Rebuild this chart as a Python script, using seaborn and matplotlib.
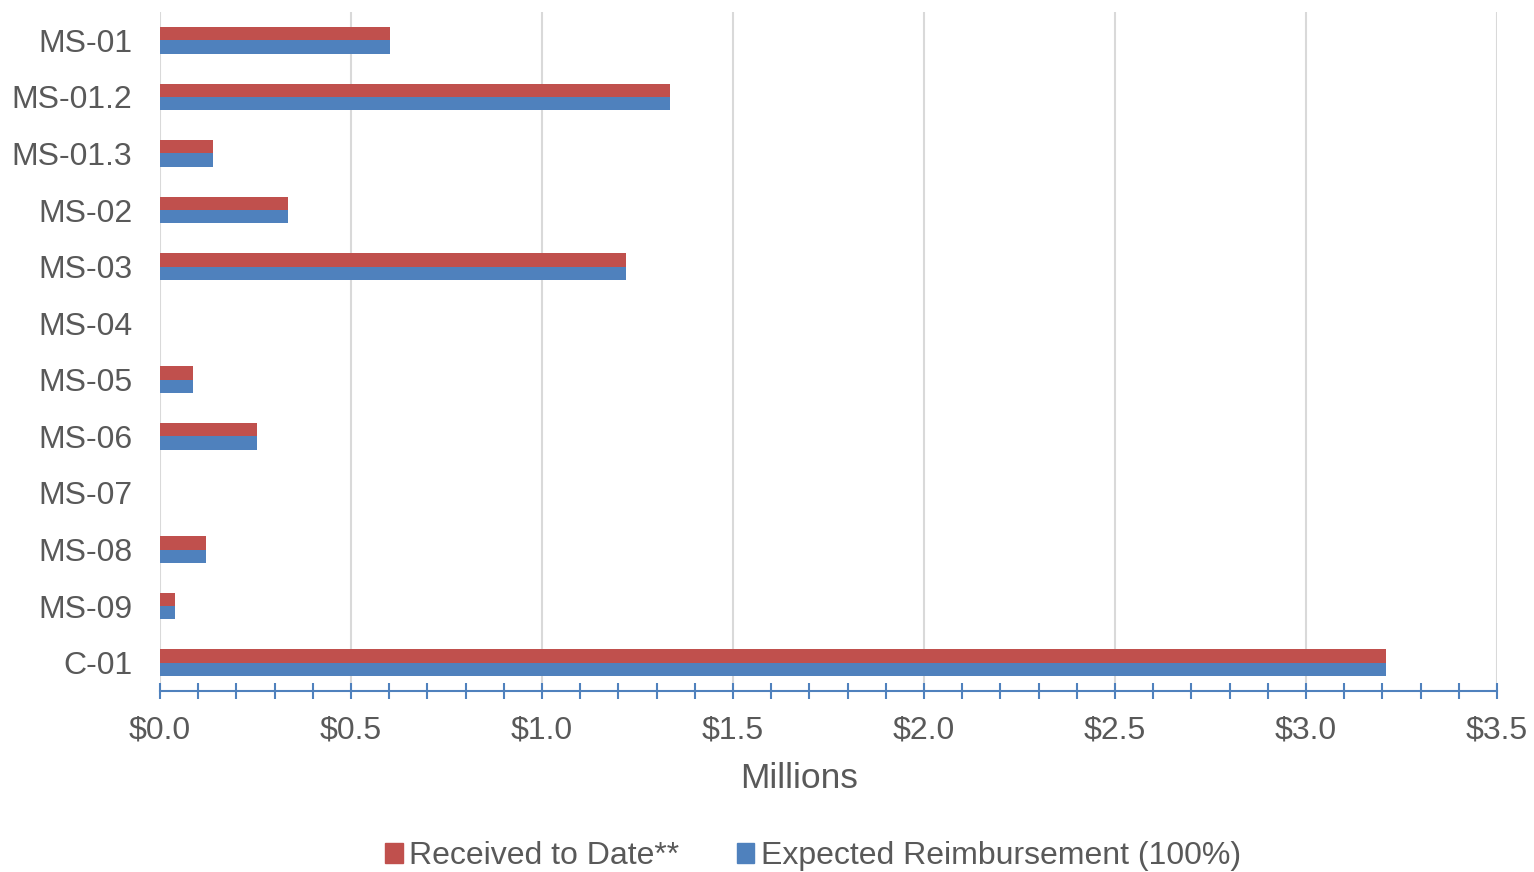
import numpy as np
import pandas as pd
import matplotlib.pyplot as plt
import seaborn as sns
from matplotlib.ticker import MultipleLocator, FuncFormatter

projects = ['MS-01', 'MS-01.2', 'MS-01.3', 'MS-02', 'MS-03', 'MS-04',
            'MS-05', 'MS-06', 'MS-07', 'MS-08', 'MS-09', 'C-01']
received = [0.602, 1.335, 0.139, 0.335, 1.220, 0.0, 0.086, 0.254, 0.0, 0.120, 0.039, 3.209]
expected = [0.602, 1.335, 0.139, 0.335, 1.220, 0.0, 0.086, 0.254, 0.0, 0.120, 0.039, 3.209]
series = ['Received to Date**', 'Expected Reimbursement (100%)']
colors = ['#C0504D', '#4F81BD']

df = pd.DataFrame({
    'project': projects * 2,
    'value': received + expected,
    'series': [series[0]] * len(projects) + [series[1]] * len(projects),
})

sns.set_style('white')
plt.rcParams['font.family'] = ['Liberation Sans', 'DejaVu Sans']
text_color = '#595959'
axis_blue = '#4F81BD'

fig, ax = plt.subplots(figsize=(15.34, 8.72), dpi=100)
fig.subplots_adjust(left=0.1043, right=0.9759, top=0.9862, bottom=0.2076)

sns.barplot(data=df, x='value', y='project', hue='series', order=projects,
            hue_order=series, palette=colors, width=0.47, orient='h',
            edgecolor='none', linewidth=0, saturation=1, ax=ax, legend=False,
            zorder=3)

ax.set_xlim(0, 3.5)
ax.xaxis.set_major_locator(MultipleLocator(0.5))
ax.xaxis.set_minor_locator(MultipleLocator(0.1))
ax.xaxis.set_major_formatter(FuncFormatter(lambda v, p: f'${v:.1f}'))
ax.grid(axis='x', which='major', color='#D9D9D9', linewidth=1.5, zorder=0)
ax.set_axisbelow(True)

for s in ['top', 'right', 'left']:
    ax.spines[s].set_visible(False)
ax.spines['bottom'].set_color(axis_blue)
ax.spines['bottom'].set_linewidth(1.5)

ax.tick_params(axis='x', which='both', bottom=True, direction='inout', length=11,
               width=1.5, color=axis_blue)
ax.tick_params(axis='x', which='major', labelsize=23, labelcolor=text_color, pad=12)
ax.tick_params(axis='y', left=False, length=0, labelsize=23, labelcolor=text_color, pad=20)

ax.set_xlabel('Millions', fontsize=25.5, color=text_color)
ax.xaxis.set_label_coords(0.478, -0.104)
ax.set_ylabel('')

handles = [plt.Rectangle((0, 0), 1, 1, color=c) for c in colors]
fig.legend(handles, series, loc='center', bbox_to_anchor=(0.530, 0.018),
           ncol=2, frameon=False, fontsize=23, labelcolor=text_color,
           handlelength=0.55, handleheight=0.55, handletextpad=0.2,
           columnspacing=1.8, borderpad=0)

fig.savefig('out.png', dpi=100)
